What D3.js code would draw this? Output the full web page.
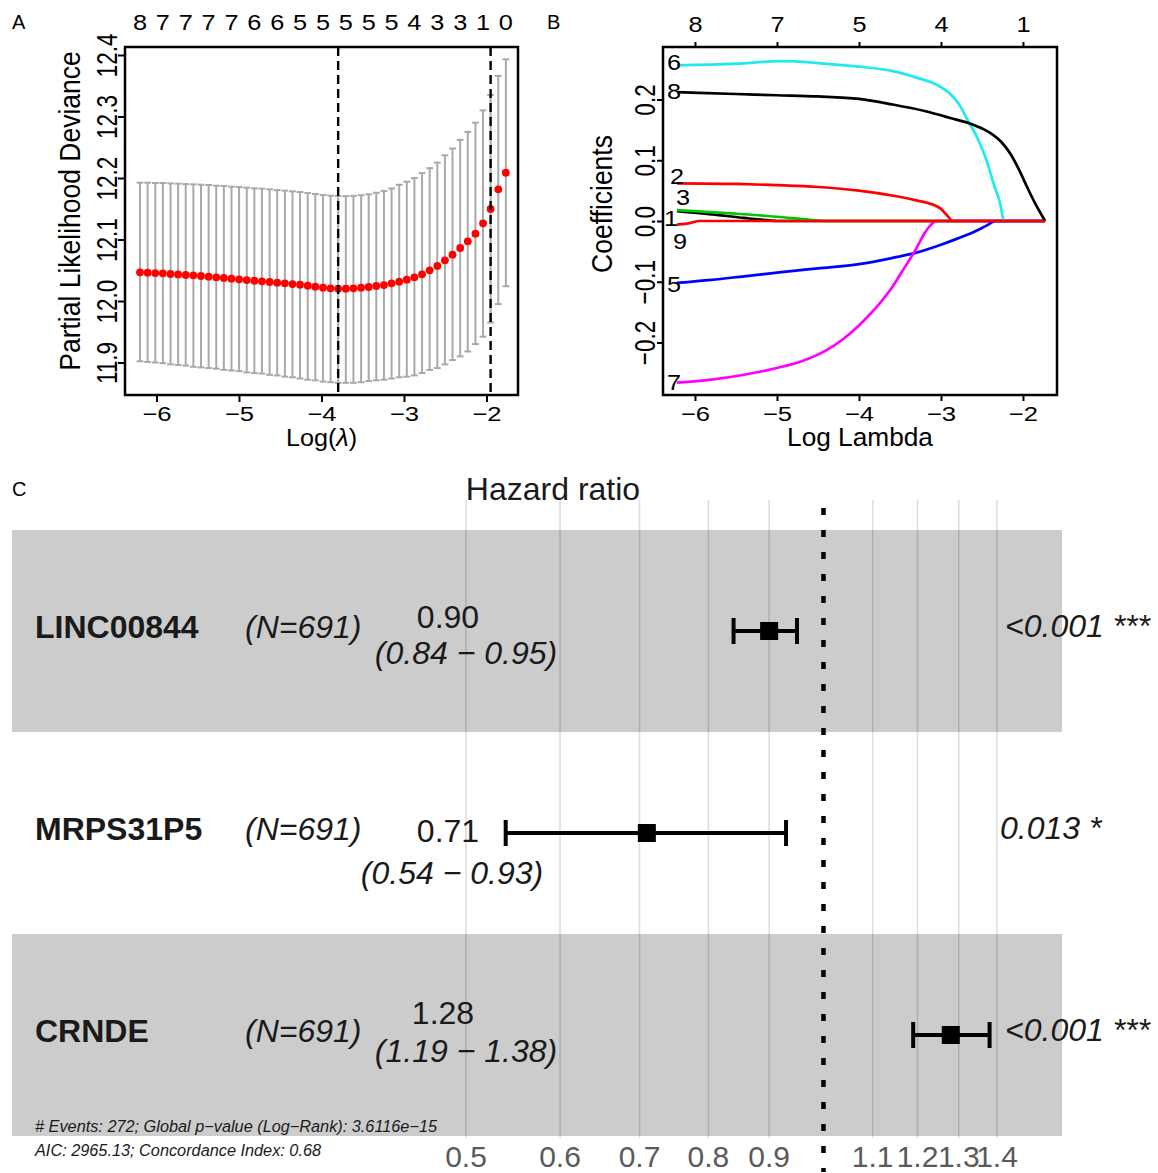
<!DOCTYPE html>
<html><head><meta charset="utf-8">
<script src="https://cdn.jsdelivr.net/npm/d3@7"></script>
<style>
body{margin:0;background:#fff}
svg{display:block}
text{font-family:"Liberation Sans",Arial,Helvetica,sans-serif}
</style>
</head><body>
<svg id="chart" width="1158" height="1173"></svg>
<script>
// ---------------- Panel A data (cv.glmnet) ----------------
const A_logLambda = [-6.200,-6.108,-6.015,-5.923,-5.830,-5.738,-5.646,-5.553,-5.461,-5.368,
  -5.276,-5.184,-5.091,-4.999,-4.906,-4.814,-4.722,-4.629,-4.537,-4.444,
  -4.352,-4.260,-4.167,-4.075,-3.982,-3.890,-3.798,-3.705,-3.613,-3.520,
  -3.428,-3.336,-3.243,-3.151,-3.058,-2.966,-2.874,-2.781,-2.689,-2.596,
  -2.504,-2.412,-2.319,-2.227,-2.134,-2.042,-1.950,-1.857,-1.765];
const A_mean = [12.0466,12.0461,12.0455,12.0450,12.0439,12.0433,12.0423,12.0417,12.0407,12.0396,
  12.0385,12.0374,12.0363,12.0352,12.0341,12.0331,12.0320,12.0309,12.0298,12.0287,
  12.0276,12.0265,12.0249,12.0233,12.0217,12.0206,12.0200,12.0201,12.0206,12.0217,
  12.0228,12.0244,12.0260,12.0287,12.0314,12.0347,12.0385,12.0434,12.0499,12.0570,
  12.0662,12.0754,12.0862,12.0971,12.1095,12.1263,12.1496,12.1816,12.2087];
const A_upper = [12.1924,12.1924,12.1919,12.1919,12.1913,12.1908,12.1902,12.1897,12.1892,12.1886,
  12.1875,12.1870,12.1859,12.1854,12.1843,12.1832,12.1827,12.1816,12.1805,12.1794,
  12.1783,12.1772,12.1756,12.1740,12.1724,12.1713,12.1707,12.1705,12.1710,12.1720,
  12.1735,12.1760,12.1790,12.1830,12.1890,12.1940,12.2000,12.2080,12.2160,12.2250,
  12.2370,12.2480,12.2620,12.2750,12.2900,12.3100,12.3350,12.3660,12.3930];
const A_lower = [11.902,11.901,11.900,11.899,11.897,11.896,11.895,11.893,11.892,11.891,
  11.890,11.888,11.887,11.886,11.884,11.883,11.882,11.880,11.879,11.877,
  11.876,11.874,11.872,11.871,11.869,11.868,11.867,11.867,11.867,11.868,
  11.870,11.871,11.872,11.874,11.876,11.877,11.879,11.883,11.888,11.891,
  11.897,11.904,11.910,11.918,11.930,11.942,11.965,11.995,12.024];
const A_nzeroLabels = ["8","7","7","7","7","6","6","5","5","5","5","5","4","3","3","1","0"]; // every 3rd lambda
const A_vlines = [-3.798, -1.950]; // lambda.min, lambda.1se
const A_xTicks = [-6,-5,-4,-3,-2];
const A_yTicks = [11.9,12.0,12.1,12.2,12.3,12.4];

// ---------------- Panel B data (coefficient paths) ----------------
const B_coef1 = [[-6.22,0.016],[-5.8,0.011],[-5.4,0.005],[-5.1,0.001],[-5.0,0],[-1.73,0]];
const B_coef2 = [[-6.22,0.062],[-5.5,0.061],[-5.0,0.059],[-4.5,0.056],[-4.0,0.050],[-3.6,0.042],[-3.3,0.034],[-3.1,0.027],[-3.0,0.020],[-2.93,0.010],[-2.85,0],[-1.73,0]];
const B_coef3 = [[-6.22,0.018],[-5.5,0.012],[-5.0,0.007],[-4.6,0.002],[-4.4,0],[-1.73,0]];
const B_coef5 = [[-6.22,-0.102],[-5.8,-0.097],[-5.4,-0.091],[-5.0,-0.085],[-4.5,-0.078],[-4.0,-0.071],[-3.6,-0.061],[-3.3,-0.052],[-3.0,-0.039],[-2.8,-0.029],[-2.6,-0.018],[-2.45,-0.008],[-2.33,0],[-1.73,0]];
const B_coef6 = [[-6.22,0.256],[-5.5,0.259],[-4.95,0.263],[-4.5,0.260],[-4.0,0.254],[-3.6,0.247],[-3.3,0.236],[-3.05,0.224],[-2.87,0.207],[-2.78,0.192],[-2.67,0.165],[-2.55,0.135],[-2.45,0.102],[-2.35,0.058],[-2.28,0.030],[-2.23,0],[-1.73,0]];
const B_coef7 = [[-6.22,-0.266],[-5.8,-0.261],[-5.4,-0.253],[-5.0,-0.242],[-4.7,-0.231],[-4.4,-0.213],[-4.2,-0.195],[-4.0,-0.172],[-3.8,-0.144],[-3.6,-0.110],[-3.45,-0.078],[-3.3,-0.045],[-3.2,-0.020],[-3.12,-0.006],[-3.06,0],[-1.73,0]];
const B_coef8 = [[-6.22,0.212],[-5.5,0.209],[-5.0,0.207],[-4.5,0.205],[-4.0,0.201],[-3.6,0.192],[-3.2,0.181],[-2.9,0.170],[-2.6,0.158],[-2.4,0.145],[-2.25,0.128],[-2.15,0.110],[-2.05,0.085],[-1.95,0.056],[-1.84,0.026],[-1.73,0]];
const B_coef9 = [[-6.22,-0.006],[-6.05,-0.003],[-5.95,0],[-1.73,0]];
const B_varIds = ["1","2","3","5","6","7","8","9"];
const B_topLabels = ["8","7","5","4","1"];
const B_xTicks = [-6,-5,-4,-3,-2];
const B_yTicks = [-0.2,-0.1,0.0,0.1,0.2];

// ---------------- Panel C data (forest plot) ----------------
const C_genes = ["LINC00844","MRPS31P5","CRNDE"];
const C_N = [691,691,691];
const C_hr = [0.90,0.71,1.28];
const C_lo = [0.84,0.54,1.19];
const C_hi = [0.95,0.93,1.38];
const C_p = ["<0.001","0.013","<0.001"];
const C_stars = ["***","*","***"];
const C_ticks = [0.5,0.6,0.7,0.8,0.9,1.0,1.1,1.2,1.3,1.4];
const C_tickLabels = ["0.5","0.6","0.7","0.8","0.9","","1.1","1.2","1.3","1.4"];
const C_footer = ["# Events: 272; Global p\u2212value (Log\u2212Rank): 3.6116e\u221215",
                  "AIC: 2965.13; Concordance Index: 0.68"];

// ================= drawing =================
const svg = d3.select("#chart");
svg.append("rect").attr("width",1158).attr("height",1173).attr("fill","#fff");
const FONT = '"Liberation Sans",Arial,Helvetica,sans-serif';
const fmtMinus = d3.format("");
const SX = 1.25; // horizontal glyph stretch seen in panels A/B

function styleAxis(g, fs){
  g.attr("font-family",FONT).attr("font-size",fs);
  g.select(".domain").remove();
  g.selectAll(".tick line").attr("stroke","#000").attr("stroke-width",2);
  g.selectAll(".tick text").attr("fill","#000");
}
function rotateLeftLabels(g){
  g.selectAll(".tick text").attr("x",null).attr("dy",null).attr("text-anchor","middle")
    .attr("font-size",22.5)
    .attr("transform",`translate(-8,0) scale(1.35,1) rotate(-90)`);
}

// panel labels
[["A",12,29],["B",547,29],["C",12,496]].forEach(([t,x,y])=>{
  svg.append("text").attr("x",x).attr("y",y).attr("font-size",20).attr("fill","#000").text(t);
});

// ---------------- Panel A ----------------
{
  const ax = d3.scaleLinear().domain([-6.382,-1.618]).range([125,518]);
  const ay = d3.scaleLinear().domain([11.8472,12.413]).range([395,47]);
  const g = svg.append("g");
  const eb = g.append("g").attr("stroke","#a9a9a9").attr("stroke-width",2);
  const capW = 3.4;
  eb.selectAll("line.v").data(A_logLambda).join("line").attr("class","v")
    .attr("x1",d=>ax(d)).attr("x2",d=>ax(d))
    .attr("y1",(d,i)=>ay(A_upper[i])).attr("y2",(d,i)=>ay(A_lower[i]));
  eb.selectAll("line.u").data(A_logLambda).join("line").attr("class","u")
    .attr("x1",d=>ax(d)-capW).attr("x2",d=>ax(d)+capW)
    .attr("y1",(d,i)=>ay(A_upper[i])).attr("y2",(d,i)=>ay(A_upper[i]));
  eb.selectAll("line.l").data(A_logLambda).join("line").attr("class","l")
    .attr("x1",d=>ax(d)-capW).attr("x2",d=>ax(d)+capW)
    .attr("y1",(d,i)=>ay(A_lower[i])).attr("y2",(d,i)=>ay(A_lower[i]));
  g.append("g").selectAll("circle").data(A_logLambda).join("circle")
    .attr("cx",d=>ax(d)).attr("cy",(d,i)=>ay(A_mean[i])).attr("r",3.9).attr("fill","#ff0000");
  g.append("g").selectAll("line").data(A_vlines).join("line")
    .attr("x1",d=>ax(d)).attr("x2",d=>ax(d)).attr("y1",ay.range()[1]).attr("y2",ay.range()[0])
    .attr("stroke","#000").attr("stroke-width",2.4).attr("stroke-dasharray","9,5");
  g.append("rect").attr("x",ax.range()[0]).attr("y",ay.range()[1])
    .attr("width",ax.range()[1]-ax.range()[0]).attr("height",ay.range()[0]-ay.range()[1])
    .attr("fill","none").attr("stroke","#000").attr("stroke-width",2.5);
  const xb = g.append("g").attr("transform","translate(0,395)")
    .call(d3.axisBottom(ax).tickValues(A_xTicks).tickSize(7).tickPadding(4).tickFormat(fmtMinus));
  styleAxis(xb,20.5);
  xb.selectAll(".tick text").attr("transform",`scale(${SX},1)`);
  const yl = g.append("g").attr("transform","translate(125,0)")
    .call(d3.axisLeft(ay).tickValues(A_yTicks).tickSize(7).tickFormat(d3.format(".1f")));
  styleAxis(yl,20.5);
  rotateLeftLabels(yl);
  // top: number of nonzero coefficients
  const topL = A_logLambda.filter((d,i)=>i%3===0);
  g.append("g").selectAll("text").data(A_nzeroLabels).join("text")
    .attr("transform",(d,i)=>`translate(${ax(topL[i])},30) scale(1.15,1)`).attr("text-anchor","middle")
    .attr("font-size",22).text(d=>d);
  g.append("text").attr("transform",`translate(${(ax.range()[0]+ax.range()[1])/2},446) scale(1.05,1)`)
    .attr("text-anchor","middle").attr("font-size",24)
    .html('Log(<tspan font-style="italic">\u03bb</tspan>)');
  g.append("text").attr("transform",`translate(80,211) scale(1.1,1) rotate(-90)`)
    .attr("text-anchor","middle").attr("font-size",26.5).text("Partial Likelihood Deviance");
}

// ---------------- Panel B ----------------
{
  const bx = d3.scaleLinear().domain([-6.390,-1.585]).range([663,1057]);
  const by = d3.scaleLinear().domain([-0.2864,0.2864]).range([395,47]);
  const g = svg.append("g");
  const series = {"1":B_coef1,"2":B_coef2,"3":B_coef3,"5":B_coef5,"6":B_coef6,"7":B_coef7,"8":B_coef8,"9":B_coef9};
  const colors = {"1":"#000000","2":"#ff0000","3":"#00c800","5":"#0000ff","6":"#22e8f0","7":"#ff00ff","8":"#000000","9":"#ff0000"};
  const line = d3.line().x(d=>bx(d[0])).y(d=>by(d[1])).curve(d3.curveMonotoneX);
  g.append("g").selectAll("path").data(B_varIds).join("path")
    .attr("d",id=>line(series[id])).attr("fill","none")
    .attr("stroke",id=>colors[id]).attr("stroke-width",2.7);
  const nudge = {"1":[-6,7],"2":[0,-7],"3":[6,-13],"5":[-3,1],"6":[-3,-3],"7":[-3,-1],"8":[-3,-1],"9":[3,16]};
  g.append("g").selectAll("text").data(B_varIds).join("text")
    .attr("transform",id=>`translate(${bx(series[id][0][0])+nudge[id][0]},${by(series[id][0][1])+nudge[id][1]}) scale(1.15,1)`)
    .attr("dy","0.36em").attr("text-anchor","middle").attr("font-size",22).text(id=>id);
  g.append("rect").attr("x",bx.range()[0]).attr("y",by.range()[1])
    .attr("width",bx.range()[1]-bx.range()[0]).attr("height",by.range()[0]-by.range()[1])
    .attr("fill","none").attr("stroke","#000").attr("stroke-width",2.5);
  const xb = g.append("g").attr("transform","translate(0,395)")
    .call(d3.axisBottom(bx).tickValues(B_xTicks).tickSize(6).tickPadding(5).tickFormat(fmtMinus));
  styleAxis(xb,20.5);
  xb.selectAll(".tick text").attr("transform",`scale(${SX},1)`);
  const xt = g.append("g").attr("transform","translate(0,47)")
    .call(d3.axisTop(bx).tickValues(B_xTicks).tickSize(5).tickPadding(10).tickFormat((d,i)=>B_topLabels[i]));
  styleAxis(xt,22);
  xt.selectAll(".tick text").attr("transform","scale(1.15,1)");
  const yl = g.append("g").attr("transform","translate(663,0)")
    .call(d3.axisLeft(by).tickValues(B_yTicks).tickSize(6).tickFormat(d3.format(".1f")));
  styleAxis(yl,20.5);
  rotateLeftLabels(yl);
  g.append("text").attr("transform",`translate(${(bx.range()[0]+bx.range()[1])/2},446) scale(1.05,1)`)
    .attr("text-anchor","middle").attr("font-size",25).text("Log Lambda");
  g.append("text").attr("transform",`translate(612,204) scale(1.1,1) rotate(-90)`)
    .attr("text-anchor","middle").attr("font-size",26.5).text("Coefficients");
}

// ---------------- Panel C ----------------
{
  const cx = d3.scaleLog().domain([0.5,1.4]).range([466,997]);
  const cy = d3.scaleBand().domain(C_genes).range([530,1136]);
  const g = svg.append("g");
  g.append("g").selectAll("rect").data(C_genes).join("rect")
    .attr("x",12).attr("width",1050).attr("y",d=>cy(d)).attr("height",cy.bandwidth())
    .attr("fill",(d,i)=>i%2===0?"#cccccc":"#ffffff");
  g.append("g").selectAll("line").data(C_ticks.filter(t=>t!==1)).join("line")
    .attr("x1",d=>cx(d)).attr("x2",d=>cx(d)).attr("y1",500).attr("y2",1138)
    .attr("stroke","rgba(0,0,0,0.14)").attr("stroke-width",1.5);
  g.append("line").attr("x1",cx(1)).attr("x2",cx(1)).attr("y1",508).attr("y2",1172)
    .attr("stroke","#000").attr("stroke-width",4.5).attr("stroke-dasharray","7,15");
  g.append("text").attr("x",553).attr("y",500).attr("text-anchor","middle")
    .attr("font-size",32).attr("fill","#1a1a1a").text("Hazard ratio");
  const mid = d=>cy(d)+cy.bandwidth()/2;
  // CI lines, caps and squares
  g.append("g").selectAll("line").data(C_genes).join("line")
    .attr("x1",(d,i)=>cx(C_lo[i])).attr("x2",(d,i)=>cx(C_hi[i]))
    .attr("y1",mid).attr("y2",mid).attr("stroke","#000").attr("stroke-width",4);
  [C_lo, C_hi].forEach(arr=>{
    g.append("g").selectAll("line").data(C_genes).join("line")
      .attr("x1",(d,i)=>cx(arr[i])).attr("x2",(d,i)=>cx(arr[i]))
      .attr("y1",d=>mid(d)-13).attr("y2",d=>mid(d)+13).attr("stroke","#000").attr("stroke-width",4);
  });
  g.append("g").selectAll("rect").data(C_genes).join("rect")
    .attr("x",(d,i)=>cx(C_hr[i])-9).attr("y",d=>mid(d)-9).attr("width",18).attr("height",18).attr("fill","#000");
  // text columns
  const T = g.append("g").attr("fill","#1a1a1a");
  T.selectAll("text.gene").data(C_genes).join("text").attr("class","gene")
    .attr("x",35).attr("y",d=>mid(d)+7).attr("font-size",32).attr("font-weight","bold").text(d=>d);
  T.selectAll("text.n").data(C_genes).join("text").attr("class","n")
    .attr("x",245).attr("y",d=>mid(d)+7).attr("font-size",32).attr("font-style","italic")
    .text((d,i)=>`(N=${C_N[i]})`);
  const estDy = [-3,9,-11], ciDy = [33,51,27], ciX = [466,452,466], estX = [448,448,443];
  T.selectAll("text.est").data(C_genes).join("text").attr("class","est")
    .attr("x",(d,i)=>estX[i]).attr("y",(d,i)=>mid(d)+estDy[i]).attr("text-anchor","middle")
    .attr("font-size",32).text((d,i)=>C_hr[i].toFixed(2));
  T.selectAll("text.ci").data(C_genes).join("text").attr("class","ci")
    .attr("x",(d,i)=>ciX[i]).attr("y",(d,i)=>mid(d)+ciDy[i]).attr("text-anchor","middle")
    .attr("font-size",32).attr("font-style","italic")
    .text((d,i)=>`(${C_lo[i].toFixed(2)} \u2212 ${C_hi[i].toFixed(2)})`);
  const pX = [1005,1000,1005];
  T.selectAll("text.p").data(C_genes).join("text").attr("class","p")
    .attr("x",(d,i)=>pX[i]).attr("y",d=>mid(d)+6).attr("font-size",32).attr("font-style","italic")
    .text((d,i)=>`${C_p[i]} ${C_stars[i]}`);
  // footer
  T.selectAll("text.f").data(C_footer).join("text").attr("class","f")
    .attr("x",35).attr("y",(d,i)=>1132+i*24).attr("font-size",16.3).attr("font-style","italic").text(d=>d);
  // tick labels
  g.append("g").selectAll("text").data(C_ticks).join("text")
    .attr("x",d=>cx(d)).attr("y",1167).attr("text-anchor","middle").attr("font-size",30)
    .attr("fill","#5a5a5a").text((d,i)=>C_tickLabels[i]);
}
</script>
</body></html>
